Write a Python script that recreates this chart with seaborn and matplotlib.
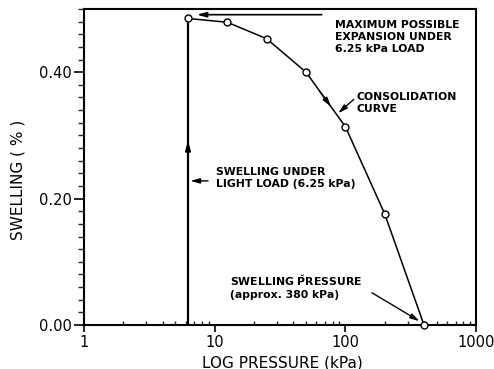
import numpy as np
import pandas as pd
import matplotlib
matplotlib.use("Agg")
import matplotlib.pyplot as plt
import seaborn as sns
from matplotlib.ticker import LogLocator, NullFormatter, MultipleLocator

# ---- data ----
pressure_kpa = [6.25, 12.5, 25, 50, 100, 200, 400]
swelling_pct = [0.485, 0.479, 0.453, 0.400, 0.314, 0.176, 0.0]
light_load_kpa = [6.25, 6.25]
light_load_swell = [0.0, 0.485]
x_ticks = [1, 10, 100, 1000]
x_tick_labels = ["1", "10", "100", "1000"]
y_ticks = [0.0, 0.2, 0.4]
y_tick_labels = ["0.00", "0.20", "0.40"]

sns.set_theme(style="white")
plt.rcParams['font.family'] = ['DejaVu Sans']
plt.rcParams['mathtext.fontset'] = 'dejavusans'

W, H = 494, 369
fig = plt.figure(figsize=(W / 100, H / 100), dpi=100)
ax = fig.add_axes([84 / W, 1 - 325 / H, (476 - 84) / W, (325 - 9) / H])

df_curve = pd.DataFrame({"p": pressure_kpa, "s": swelling_pct})
df_up = pd.DataFrame({"p": light_load_kpa, "s": light_load_swell})

sns.lineplot(data=df_up, x="p", y="s", sort=False, estimator=None,
             color="black", lw=1.6, ax=ax)
sns.lineplot(data=df_curve, x="p", y="s", sort=False, estimator=None,
             color="black", lw=1.1, marker="o", markersize=5,
             markerfacecolor="white", markeredgecolor="black",
             markeredgewidth=1, ax=ax, zorder=3, clip_on=False)

ax.set_xscale("log")
ax.set_xlim(1, 1000)
ax.set_ylim(0, 0.5)
ax.set_xticks(x_ticks, x_tick_labels)
ax.xaxis.set_minor_locator(LogLocator(base=10, subs=np.arange(2, 10)))
ax.xaxis.set_minor_formatter(NullFormatter())
ax.set_yticks(y_ticks, y_tick_labels)
ax.yaxis.set_minor_locator(MultipleLocator(0.02))

for sp in ax.spines.values():
    sp.set_visible(True)
    sp.set_color("black")
    sp.set_linewidth(1.5)

ax.tick_params(axis="x", which="major", direction="out", length=5, width=1.2,
               labelsize=10.5, pad=2, colors="black", bottom=True)
ax.tick_params(axis="x", which="minor", direction="in", length=3, width=1,
               bottom=True)
ax.tick_params(axis="y", which="major", direction="out", length=7, width=1.2,
               labelsize=10.5, pad=2, colors="black", left=True)
ax.tick_params(axis="y", which="minor", direction="out", length=4, width=1,
               left=True)

ax.set_xlabel("LOG PRESSURE (kPa)", fontsize=11, color="black")
ax.set_ylabel("SWELLING ( % )", fontsize=11, color="black")
ax.xaxis.set_label_coords(0.505, -0.095)
ax.yaxis.set_label_coords(-0.15, 0.46)

# ---- arrows ----
def arrow(xy, xytext, lw=1.0, head="-|>,head_length=0.55,head_width=0.15"):
    ax.annotate("", xy=xy, xytext=xytext,
                arrowprops=dict(arrowstyle=head, color="black", lw=lw,
                                shrinkA=0, shrinkB=0, mutation_scale=10))

arrow((6.25, 0.292), (6.25, 0.26), lw=1.4)
arrow((78, 0.345), (64, 0.369), lw=1.1)
arrow((7.3, 0.491), (66, 0.491), lw=1.2)
arrow((6.5, 0.228), (8.9, 0.228), lw=1.0)
arrow((88, 0.335), (116, 0.357), lw=1.0)
arrow((370, 0.006), (160, 0.051), lw=1.0)

# ---- annotation texts ----
def px(x, y):
    return x / W, 1 - y / H

tkw = dict(fontsize=7.8, fontweight="bold", color="black", va="center",
           ha="left", linespacing=1.25)
fig.text(*px(335, 36.5), "MAXIMUM POSSIBLE\nEXPANSION UNDER\n6.25 kPa LOAD", **tkw)
fig.text(*px(356, 103), "CONSOLIDATION\nCURVE", **tkw)
fig.text(*px(216, 178), "SWELLING UNDER\nLIGHT LOAD (6.25 kPa)", **tkw)
fig.text(*px(230, 286.5), "SWELLING $\\breve{\\mathbf{P}}$RESSURE\n(approx. 380 kPa)", **tkw)

fig.savefig("out.png", dpi=100)
